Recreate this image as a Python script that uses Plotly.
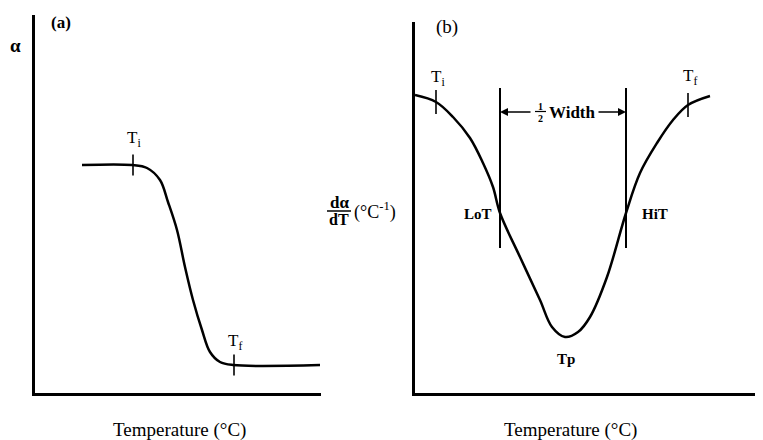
import plotly.graph_objects as go

# page body adds an 8px margin, so the figure is placed at (8, 8)
OFF = 8
W, H = 763 - OFF, 440 - OFF

# ---- data (arbitrary temperature units, schematic) ----
temp_a = [47, 97, 112, 125, 133, 142, 150, 158, 167, 175, 185, 198, 285]
alpha_a = [228, 228, 225, 213, 191, 163, 126, 93, 63, 41, 31, 28, 28]
Ti_a, Tf_a = 98, 199
Ti_a_y, Tf_a_y = 228, 28

temp_b = [0, 21, 38, 55, 68, 78, 85, 105, 125, 137, 150, 163, 175, 192, 211, 225, 242, 258, 273, 295]
dadt_b = [298, 291, 276, 255, 230, 206, 180, 136, 93, 66, 56, 61, 76, 116, 180, 220, 250, 273, 288, 297]
Ti_b, Tf_b = 21, 273
Ti_b_y, Tf_b_y = 291, 288
LoT, HiT, Tp = 85, 211, 150
LoT_y, Tp_y = 180, 56
half_width_y = 281
vline_y = [145, 305]

FONT = "Liberation Serif, Times New Roman, serif"


def px(xp):
    return (xp - OFF) / W


def py(yp):
    return 1 - (yp - OFF) / H


fig = go.Figure()

# panel (a)
fig.add_trace(go.Scatter(x=temp_a, y=alpha_a, mode="lines",
                         line=dict(color="black", width=2.5, shape="spline", smoothing=1.0),
                         xaxis="x", yaxis="y", hoverinfo="skip"))
fig.add_trace(go.Scatter(x=[Ti_a, Tf_a], y=[Ti_a_y, Tf_a_y], mode="markers",
                         marker=dict(symbol="line-ns", size=15, line=dict(color="black", width=1.6)),
                         xaxis="x", yaxis="y", hoverinfo="skip"))

# panel (b)
fig.add_trace(go.Scatter(x=temp_b, y=dadt_b, mode="lines",
                         line=dict(color="black", width=2.5, shape="spline", smoothing=1.0),
                         xaxis="x2", yaxis="y2", hoverinfo="skip"))
fig.add_trace(go.Scatter(x=[Ti_b, Tf_b], y=[Ti_b_y, Tf_b_y], mode="markers",
                         marker=dict(symbol="line-ns", size=17, line=dict(color="black", width=1.6)),
                         xaxis="x2", yaxis="y2", hoverinfo="skip"))
for xv in (LoT, HiT):
    fig.add_trace(go.Scatter(x=[xv, xv], y=vline_y, mode="lines",
                             line=dict(color="black", width=2),
                             xaxis="x2", yaxis="y2", hoverinfo="skip"))

ax_common = dict(showline=True, linecolor="black", linewidth=2.5, showgrid=False,
                 zeroline=False, showticklabels=False, ticks="", fixedrange=True)

fig.update_layout(
    width=W, height=H, margin=dict(l=0, r=0, t=0, b=0),
    paper_bgcolor="white", plot_bgcolor="white", showlegend=False,
    xaxis=dict(domain=[px(35), px(321)], range=[0, 286], anchor="y", **ax_common),
    yaxis=dict(domain=[py(393), py(15)], range=[0, 378], anchor="x", **ax_common),
    xaxis2=dict(domain=[px(415), 1], range=[0, 348], anchor="y2", **ax_common),
    yaxis2=dict(domain=[py(393), py(22)], range=[0, 371], anchor="x2", **ax_common),
    font=dict(family=FONT, color="black"),
)


def ann(text, x, y, xref, yref, size, yshift=0, **kw):
    fig.add_annotation(text=text, x=x, y=y, xref=xref, yref=yref, showarrow=False,
                       xanchor="center", yanchor="middle",
                       font=dict(family=FONT, size=size, color="black"), yshift=yshift, **kw)


# panel (a) texts
ann("<b>(a)</b>", px(61), py(23), "paper", "paper", 17)
ann("<b>α</b>", px(15), py(45), "paper", "paper", 19)
ann("T<sub>i</sub>", Ti_a + 1, Ti_a_y, "x", "y", 17, yshift=26)
ann("T<sub>f</sub>", Tf_a + 1, Tf_a_y, "x", "y", 17, yshift=23)
ann("Temperature (°C)", px(179), py(430), "paper", "paper", 19)

# panel (b) texts
ann("(b)", px(447), py(27), "paper", "paper", 19)
ann("T<sub>i</sub>", Ti_b + 2, Ti_b_y, "x2", "y2", 17, yshift=24)
ann("T<sub>f</sub>", Tf_b + 2, Tf_b_y, "x2", "y2", 17, yshift=28)
ann("<b>LoT</b>", LoT - 22, LoT_y - 1, "x2", "y2", 15)
ann("<b>HiT</b>", HiT + 29, LoT_y - 1, "x2", "y2", 15)
ann("<b>Tp</b>", Tp + 1, Tp_y, "x2", "y2", 15, yshift=-22)
ann("Temperature (°C)", px(570), py(430), "paper", "paper", 19)

# 1/2 Width
ann("<b>Width</b>", 157, half_width_y, "x2", "y2", 17)
ann("<b>1</b>", 125, half_width_y, "x2", "y2", 10, yshift=6)
ann("<b>2</b>", 125, half_width_y, "x2", "y2", 10, yshift=-6)
fig.add_shape(type="line", xref="paper", yref="paper", x0=px(535), x1=px(546),
              y0=py(111.5), y1=py(111.5), line=dict(color="black", width=1.2))
for head, tail in ((LoT, 117), (HiT, 182)):
    fig.add_annotation(x=head, y=half_width_y, ax=tail, ay=half_width_y,
                       xref="x2", yref="y2", axref="x2", ayref="y2", text="",
                       showarrow=True, arrowhead=2, arrowsize=1, arrowwidth=1.6,
                       arrowcolor="black")

# d alpha / dT label
ann("<b>dα</b>", px(339), py(203), "paper", "paper", 17)
ann("<b>dT</b>", px(339), py(219), "paper", "paper", 16)
fig.add_shape(type="line", xref="paper", yref="paper", x0=px(327), x1=px(351),
              y0=py(211), y1=py(211), line=dict(color="black", width=1.5))
ann("(°C<sup>-1</sup>)", px(375), py(211), "paper", "paper", 18)

fig.write_html("out.html")
